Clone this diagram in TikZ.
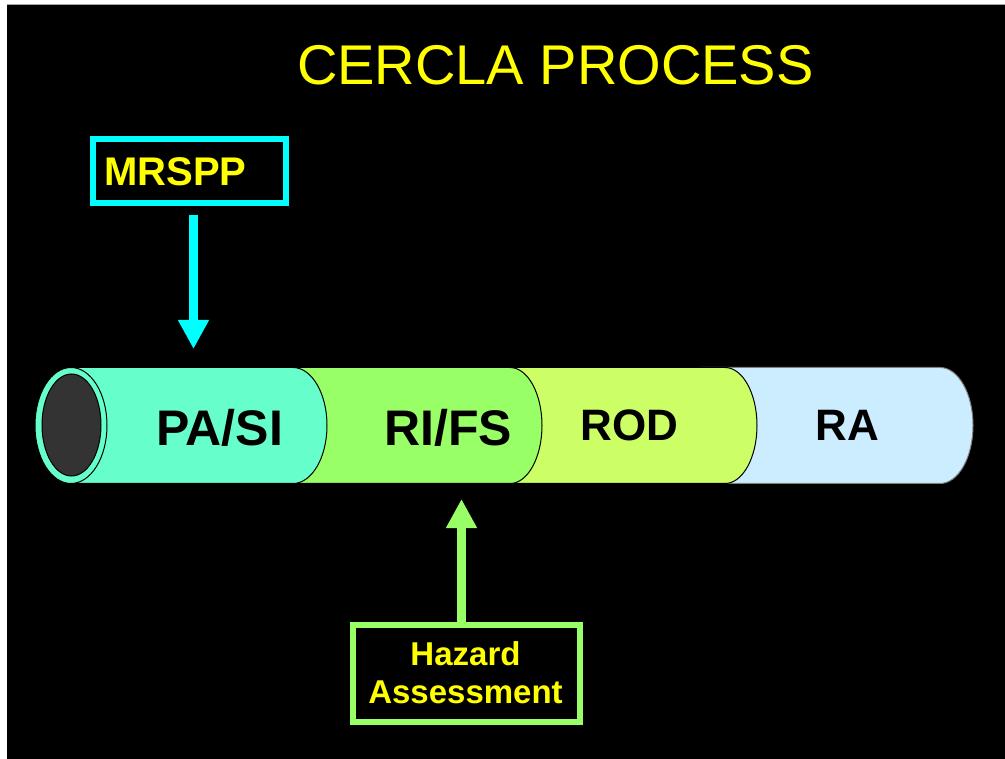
\documentclass[tikz,border=0pt]{standalone}
\usepackage{fontspec}
\setmainfont{Liberation Sans}
\usetikzlibrary{arrows.meta}
\definecolor{mint}{HTML}{66FFCC}
\definecolor{lgreen}{HTML}{99FF66}
\definecolor{lime}{HTML}{CCFF66}
\definecolor{lblue}{HTML}{CCECFF}
\definecolor{cyanc}{HTML}{00FFFF}
\definecolor{yel}{HTML}{FFFF00}
\definecolor{capgray}{HTML}{333333}
\tikzset{
  segline/.style={draw=black, line width=1},
  segtext/.style={anchor=base, inner sep=0, text=black, font=\bfseries\fontsize{50}{56}\selectfont},
  segtextsm/.style={anchor=base, inner sep=0, text=black, font=\bfseries\fontsize{44}{50}\selectfont},
  boxframe/.style={draw=#1, line width=6, fill=black, inner sep=0},
  boxtext/.style={inner sep=0, text=yel, font=\bfseries\fontsize{#1}{#1}\selectfont},
  bigarrow/.style={draw=#1, line width=8.5, -{Triangle[length=29pt,width=29pt,fill=#1]}},
}
\begin{document}
\begin{tikzpicture}[x=1pt,y=1pt]
\useasboundingbox (0,0) rectangle (1005,-759);
\fill[white] (0,0) rectangle (1005,-759);
\fill[black] (7,-4) rectangle (1005,-759);
\draw[gray!70, line width=1] (7,-4.5) -- (1005,-4.5);

% title
\node[anchor=base, inner sep=0, text=yel, font=\fontsize{56}{60}\selectfont] (title) at (555.5,-85) {CERCLA PROCESS};

% cylinder segments (right to left)
\path[segline, draw=gray, fill=lblue] (700,-367.5) -- (940,-367.5) arc[start angle=90, end angle=-90, x radius=33, y radius=58] -- (700,-483.5) -- cycle;
\path[segline, fill=lime] (510,-367.5) -- (725,-367.5) arc[start angle=90, end angle=-90, x radius=32, y radius=58] -- (510,-483.5) -- cycle;
\path[segline, fill=lgreen] (293,-367.5) -- (510,-367.5) arc[start angle=90, end angle=-90, x radius=32, y radius=58] -- (293,-483.5) -- cycle;
\path[segline, fill=mint] (71,-367.5) -- (293,-367.5) arc[start angle=90, end angle=-90, x radius=34, y radius=58] -- (71,-483.5) -- cycle;
% left end cap
\path[segline, fill=mint] (71,-425.5) ellipse[x radius=36, y radius=58];
\path[segline, fill=capgray] (71.5,-425) ellipse[x radius=29.5, y radius=51];

% segment labels
\node[segtext] (pasi) at (219.5,-446) {PA/SI};
\node[segtext] (rifs) at (448,-446) {RI/FS};
\node[segtextsm] (rod) at (629.5,-441) {ROD};
\node[segtextsm] (ra) at (847.5,-441) {RA};

% MRSPP box
\node[boxframe=cyanc, minimum width=193.5, minimum height=63.5] (mrspp) at (189.25,-171.25) {};
\node[boxtext=40, anchor=base west] (mrspptxt) at (104,-186) {MRSPP};
\coordinate (cytip) at (193.5,-349);
\draw[bigarrow=cyanc] ([yshift=-9]mrspp.south -| cytip) -- (cytip);

% Hazard Assessment box
\node[boxframe=lgreen, minimum width=227.5, minimum height=97.5] (haz) at (466.25,-673.25) {};
\node[boxtext=33, anchor=base] (haz1) at (465.5,-665) {Hazard};
\node[boxtext=33, anchor=base] (haz2) at (465.5,-703) {Assessment};
\coordinate (grtip) at (461.5,-499);
\draw[bigarrow=lgreen] (haz.north -| grtip) -- (grtip);
\end{tikzpicture}
\end{document}
